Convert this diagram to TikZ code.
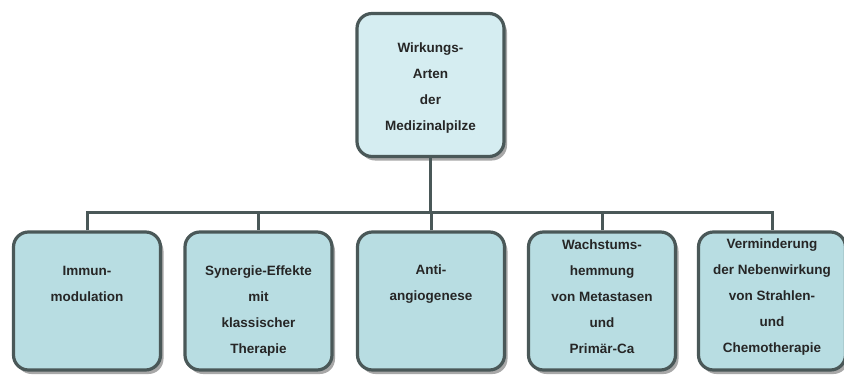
\documentclass[tikz,border=0pt]{standalone}
\usepackage{fontspec}
\setmainfont{Liberation Sans}
\usetikzlibrary{shadows}
\definecolor{edgec}{HTML}{4A5858}
\definecolor{topfill}{HTML}{D5EDF1}
\definecolor{boxfill}{HTML}{B8DDE2}
\definecolor{shadowc}{HTML}{A8A8A8}
\begin{document}
\begin{tikzpicture}[x=1pt,y=-1pt,
  box/.style={draw=edgec, line width=3.2pt, rounded corners=15pt, minimum width=147pt, minimum height=138pt, inner sep=0pt,
    drop shadow={shadow xshift=3pt, shadow yshift=-4pt, fill=shadowc, opacity=1}},
  txt/.style={font=\fontsize{13.5}{26}\selectfont\bfseries, align=center, text=black!85, inner sep=0pt},
  conn/.style={draw=edgec, line width=3pt}]
\useasboundingbox (0,0) rectangle (844,375);
% boxes
\node[box, fill=topfill, minimum height=143pt] (top) at (430.5,85) {};
\node[box, fill=boxfill] (b1) at (87,301) {};
\node[box, fill=boxfill] (b2) at (258.5,301) {};
\node[box, fill=boxfill] (b3) at (431,301) {};
\node[box, fill=boxfill] (b4) at (602,301) {};
\node[box, fill=boxfill] (b5) at (772,301) {};
% texts
\node[txt] (t0) at (430.5,88.5) {Wirkungs-\\Arten\\der\\Medizinalpilze};
\node[txt] (t1) at (87,284) {Immun-\\modulation};
\node[txt] (t2) at (258.5,311) {Synergie-Effekte\\mit\\klassischer\\Therapie};
\node[txt] (t3) at (431,284) {Anti-\\angiogenese};
\node[txt] (t4) at (602,297) {Wachstums-\\hemmung\\von Metastasen\\und\\Primär-Ca};
\node[txt] (t5) at (772,297) {Verminderung\\der Nebenwirkung\\von Strahlen-\\und\\Chemotherapie};
% connectors
\coordinate (hj) at (430.5,212);
\draw[conn] (top.south) -- (hj);
\draw[conn] (b1.north) |- (hj) -| (b5.north);
\draw[conn] (b2.north) -- (b2.north |- hj);
\draw[conn] (b3.north) -- (b3.north |- hj);
\draw[conn] (b4.north) -- (b4.north |- hj);
\end{tikzpicture}
\end{document}
